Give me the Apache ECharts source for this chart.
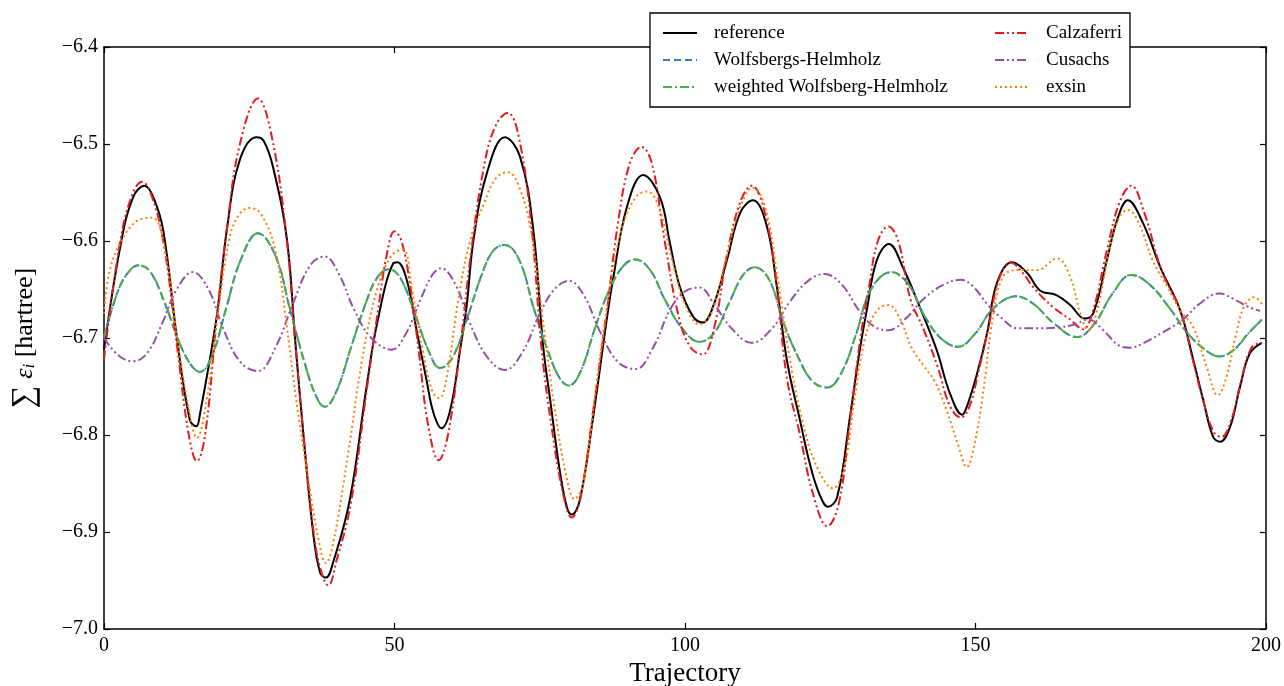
<!DOCTYPE html>
<html>
<head>
<meta charset="utf-8">
<script src="https://cdn.jsdelivr.net/npm/echarts@6/dist/echarts.min.js"></script>
<style>html,body{margin:0;padding:0;background:#fff}#c{width:1284px;height:686px}</style>
</head>
<body>
<div id="c"></div>
<script>
// ---- data ----
const xTicks = [0, 50, 100, 150, 200];
const yTicks = [-7.0, -6.9, -6.8, -6.7, -6.6, -6.5, -6.4];

const refX = [0,2.8,5,7,8.5,10.2,12.6,14.8,15.9,16.5,19.4,21.2,23.4,26.3,27.5,29.1,31.5,32.9,34.3,36,37.2,38.2,39.4,42.3,45.2,47,49.8,50.5,52.1,53.8,55.5,56.7,58.1,59.6,61.3,62.4,63.6,65.9,69,71.6,73.9,75.6,76.8,78.5,79.7,80.5,81.9,84.2,86.6,87.6,90,92.8,95.7,97.4,99.1,101.4,103.1,104.8,107.2,109.5,111.7,114.1,115.8,117.6,119.8,121.5,123.2,124.6,126.2,128.4,130.1,131.3,133,135.1,137.5,140.4,143.3,145.6,147.7,148.5,150.3,152,153.7,156.3,158.9,161.1,164,166.3,168.8,170.3,172.6,174.4,176.2,178.8,181.8,185.2,187.5,189.2,190.9,192.1,193.8,195.5,197.2,199.3];
const refY = [-6.712,-6.606,-6.555,-6.543,-6.555,-6.589,-6.702,-6.785,-6.791,-6.779,-6.678,-6.586,-6.516,-6.493,-6.497,-6.524,-6.599,-6.702,-6.798,-6.901,-6.942,-6.947,-6.932,-6.867,-6.750,-6.685,-6.623,-6.622,-6.640,-6.692,-6.743,-6.777,-6.793,-6.774,-6.712,-6.668,-6.599,-6.530,-6.493,-6.513,-6.589,-6.709,-6.764,-6.839,-6.875,-6.882,-6.867,-6.781,-6.678,-6.640,-6.565,-6.532,-6.555,-6.602,-6.647,-6.678,-6.684,-6.668,-6.620,-6.571,-6.558,-6.585,-6.647,-6.725,-6.785,-6.830,-6.862,-6.874,-6.864,-6.781,-6.712,-6.671,-6.620,-6.603,-6.627,-6.668,-6.712,-6.757,-6.779,-6.771,-6.736,-6.695,-6.643,-6.622,-6.633,-6.651,-6.656,-6.666,-6.680,-6.674,-6.620,-6.578,-6.558,-6.581,-6.627,-6.671,-6.723,-6.764,-6.802,-6.807,-6.792,-6.751,-6.716,-6.705];

const whX = [0,2.5,4.5,6,8,10.5,13,15,16.5,18.5,21,23.5,26.5,29.5,32,34.5,36.5,38,40,42.5,45,47,49,51,53.5,56,57.8,60,62.5,65,67,69,71.5,74,76.5,78.5,80,82,84.5,87,89.5,91.5,94,96.5,99.5,102.5,105,107.5,110,112,114.5,117,119.5,122,124.5,127,129.5,132,135.5,138.5,141,144,147,150,153,157,160,163.5,167.5,170.5,173.5,176.8,180,183.5,186.5,189.5,192,194.5,197,199.3];
const whY = [-6.700,-6.650,-6.630,-6.625,-6.632,-6.665,-6.705,-6.728,-6.735,-6.720,-6.670,-6.620,-6.592,-6.615,-6.670,-6.725,-6.760,-6.771,-6.755,-6.710,-6.665,-6.638,-6.629,-6.638,-6.675,-6.715,-6.731,-6.720,-6.680,-6.635,-6.610,-6.604,-6.620,-6.670,-6.715,-6.742,-6.749,-6.735,-6.690,-6.650,-6.625,-6.619,-6.630,-6.660,-6.690,-6.704,-6.695,-6.665,-6.635,-6.627,-6.640,-6.685,-6.720,-6.745,-6.751,-6.735,-6.695,-6.650,-6.632,-6.645,-6.675,-6.700,-6.709,-6.695,-6.670,-6.657,-6.665,-6.685,-6.699,-6.685,-6.655,-6.635,-6.645,-6.670,-6.695,-6.712,-6.719,-6.712,-6.695,-6.681];

const wwhX = [0,2.5,4.5,6,8,10.5,13,15,16.5,18.5,21,23.5,26.5,29.5,32,34.5,36.5,38,40,42.5,45,47,49,51,53.5,56,57.8,60,62.5,65,67,69,71.5,74,76.5,78.5,80,82,84.5,87,89.5,91.5,94,96.5,99.5,102.5,105,107.5,110,112,114.5,117,119.5,122,124.5,127,129.5,132,135.5,138.5,141,144,147,150,153,157,160,163.5,167.5,170.5,173.5,176.8,180,183.5,186.5,189.5,192,194.5,197,199.3];
const wwhY = [-6.699,-6.650,-6.630,-6.625,-6.632,-6.664,-6.705,-6.728,-6.735,-6.720,-6.670,-6.620,-6.592,-6.615,-6.670,-6.725,-6.760,-6.771,-6.755,-6.710,-6.665,-6.638,-6.629,-6.638,-6.675,-6.715,-6.731,-6.720,-6.680,-6.635,-6.610,-6.604,-6.620,-6.670,-6.715,-6.742,-6.749,-6.735,-6.690,-6.650,-6.625,-6.619,-6.630,-6.660,-6.690,-6.704,-6.695,-6.665,-6.635,-6.627,-6.640,-6.685,-6.720,-6.745,-6.751,-6.735,-6.695,-6.650,-6.632,-6.645,-6.675,-6.700,-6.709,-6.695,-6.670,-6.657,-6.665,-6.685,-6.699,-6.685,-6.655,-6.635,-6.645,-6.670,-6.695,-6.712,-6.719,-6.712,-6.695,-6.681];

const calX = [0,2.8,5,6.6,8,10.2,12.6,14.6,16,17.4,19.4,21.2,23.4,26.5,28.8,31.3,33,34.5,36.3,37.6,38.6,40,42.5,45.3,47.2,48.8,50,51.2,52.8,54.3,55.8,57.6,59.2,61.5,63,65.5,67.5,69.5,71.3,73.5,75.3,77,79,80.5,82,84.3,86.6,88.5,90.5,92.5,94.3,96.5,99,101,103,105,107.2,109.5,111.5,113.5,115.7,117.5,119.8,122,124.5,126.5,128.5,130.2,131.6,133.2,135,136.7,138.8,141,143.5,145.6,147.5,149,150.5,152.2,154,156,158,160,163.3,166.3,168.5,170.3,172.6,174.8,176.8,179,182,185.2,187.5,189.2,191,192.3,194,195.7,197.5,199.3];
const calY = [-6.722,-6.600,-6.550,-6.539,-6.550,-6.600,-6.710,-6.800,-6.827,-6.800,-6.680,-6.585,-6.500,-6.453,-6.490,-6.590,-6.710,-6.810,-6.910,-6.945,-6.955,-6.930,-6.870,-6.750,-6.670,-6.610,-6.590,-6.600,-6.650,-6.720,-6.790,-6.826,-6.800,-6.700,-6.620,-6.520,-6.480,-6.468,-6.490,-6.580,-6.710,-6.790,-6.860,-6.885,-6.865,-6.770,-6.670,-6.580,-6.520,-6.503,-6.520,-6.600,-6.680,-6.710,-6.717,-6.690,-6.615,-6.560,-6.543,-6.565,-6.640,-6.740,-6.800,-6.860,-6.894,-6.870,-6.780,-6.700,-6.650,-6.600,-6.585,-6.600,-6.660,-6.690,-6.730,-6.770,-6.782,-6.770,-6.735,-6.690,-6.640,-6.622,-6.632,-6.648,-6.668,-6.681,-6.691,-6.670,-6.610,-6.560,-6.543,-6.570,-6.630,-6.671,-6.725,-6.765,-6.797,-6.802,-6.785,-6.745,-6.710,-6.705];

const cusX = [0,2.5,5,7.5,10,12.5,15.3,18,20.5,23.5,26.5,29.5,32.5,35.5,38,40.5,43,46,49.5,52,54.5,56.5,58,60.5,63,66,69,72,75,77.5,80,82.5,85.5,88.5,91.5,94.5,97.5,100,102.5,105,108,111.5,115,118,121,124,127,130,132.5,135,138,141,144.5,147.5,149.6,152,154.2,157.3,161,164.5,167,169.4,172,174.5,176.6,179,182,185.7,188.5,192,194.5,197,199];
const cusY = [-6.700,-6.718,-6.724,-6.715,-6.685,-6.650,-6.632,-6.650,-6.690,-6.725,-6.734,-6.710,-6.665,-6.625,-6.616,-6.635,-6.670,-6.700,-6.712,-6.695,-6.660,-6.635,-6.628,-6.645,-6.685,-6.720,-6.733,-6.715,-6.675,-6.650,-6.641,-6.655,-6.695,-6.725,-6.732,-6.710,-6.670,-6.652,-6.648,-6.665,-6.690,-6.705,-6.690,-6.663,-6.642,-6.634,-6.645,-6.672,-6.688,-6.692,-6.680,-6.660,-6.645,-6.640,-6.647,-6.665,-6.678,-6.690,-6.690,-6.689,-6.686,-6.681,-6.692,-6.707,-6.710,-6.705,-6.695,-6.681,-6.665,-6.654,-6.660,-6.668,-6.672];

const exsX = [0,1,3,5.5,8.3,10.5,12.6,14.5,16,17.5,19.5,21.5,23,25,27,29.5,31.5,33,35,37,38.2,39.5,42,44.5,47,49.5,51.5,53,54.8,56.5,57.7,59,61,63,65.5,67.5,69.5,71.5,73.5,75.5,77.5,79.5,81,82.5,84.5,86.8,89,91.5,93.5,95.5,97.8,100,102.5,104.5,107,109.5,111.7,113.8,116,118,120,122.5,125.5,127.5,129,131,133,135,137,139,141,143,145,147,148.5,149.8,151.3,153,154.7,157.1,160.6,164,166.3,168,169.4,171,173,174.8,176.2,178,180.5,183,185.3,187.5,189.8,191.7,193.2,194.7,196.2,198,199.3];
const exsY = [-6.675,-6.630,-6.600,-6.580,-6.576,-6.610,-6.700,-6.770,-6.803,-6.770,-6.680,-6.600,-6.575,-6.566,-6.572,-6.610,-6.690,-6.760,-6.840,-6.910,-6.932,-6.910,-6.820,-6.720,-6.650,-6.615,-6.609,-6.650,-6.710,-6.755,-6.762,-6.740,-6.660,-6.600,-6.560,-6.535,-6.529,-6.545,-6.590,-6.680,-6.770,-6.840,-6.866,-6.850,-6.760,-6.660,-6.590,-6.555,-6.549,-6.565,-6.620,-6.665,-6.686,-6.675,-6.620,-6.565,-6.545,-6.565,-6.640,-6.720,-6.780,-6.830,-6.855,-6.830,-6.770,-6.700,-6.672,-6.666,-6.680,-6.710,-6.728,-6.745,-6.774,-6.810,-6.833,-6.810,-6.757,-6.678,-6.637,-6.630,-6.630,-6.618,-6.637,-6.674,-6.692,-6.670,-6.610,-6.575,-6.568,-6.580,-6.620,-6.647,-6.672,-6.689,-6.730,-6.759,-6.740,-6.700,-6.668,-6.658,-6.665];

const names = ['reference','Wolfsbergs-Helmholz','weighted Wolfsberg-Helmholz','Calzaferri','Cusachs','exsin'];

// ---- chart ----
const zip = (xs, ys) => xs.map((x, i) => [x, ys[i]]);
const serif = '"Liberation Serif","DejaVu Serif",serif';
const fmtY = v => v.toFixed(1).replace('-', '\u2212');

const chart = echarts.init(document.getElementById('c'), null, {renderer: 'canvas'});
const mk = (name, data, color, type, z) => ({
  name, type: 'line', data, symbol: 'none', smooth: 0.4,
  lineStyle: {color, width: 2, type}, itemStyle: {color}, z,
  emphasis: {disabled: true}, animation: false
});

const axisCommonX = {
  type: 'value', min: 0, max: 200, interval: 50,
  axisLine: {show: true, onZero: false, lineStyle: {color: '#000', width: 1.5}},
  axisTick: {show: true, inside: true, length: 6, lineStyle: {color: '#000', width: 1.2}},
  splitLine: {show: false}
};
const axisCommonY = {
  type: 'value', min: -7.0, max: -6.4, interval: 0.1,
  axisLine: {show: true, onZero: false, lineStyle: {color: '#000', width: 1.5}},
  axisTick: {show: true, inside: true, length: 6, lineStyle: {color: '#000', width: 1.2}},
  splitLine: {show: false}
};
const legendCommon = {
  orient: 'vertical', top: 23, padding: 0, itemWidth: 34, itemHeight: 14, itemGap: 7, z: 20,
  selectedMode: false, itemStyle: {opacity: 0},
  textStyle: {color: '#000', fontFamily: serif, fontSize: 19, lineHeight: 20, padding: [0, 0, 0, 12]}
};

chart.setOption({
  animation: false,
  backgroundColor: '#fff',
  grid: {left: 104, right: 18, top: 47, bottom: 57, containLabel: false, outerBoundsMode: 'none'},
  xAxis: [
    Object.assign({}, axisCommonX, {
      position: 'bottom',
      axisLabel: {show: true, color: '#000', fontFamily: serif, fontSize: 20, margin: 7,
        formatter: v => xTicks.includes(v) ? String(v) : ''},
      name: 'Trajectory', nameLocation: 'middle', nameGap: 31,
      nameTextStyle: {color: '#000', fontFamily: serif, fontSize: 27}
    }),
    Object.assign({}, axisCommonX, {position: 'top', axisLabel: {show: false}})
  ],
  yAxis: [
    Object.assign({}, axisCommonY, {
      position: 'left',
      axisLabel: {show: true, color: '#000', fontFamily: serif, fontSize: 20, margin: 6,
        formatter: v => fmtY(v)},
      name: '{s|\u2211} {e|\u03b5}{i|i} {t|[hartree]}', nameLocation: 'middle', nameGap: 63, nameRotate: 90,
      nameTextStyle: {color: '#000', fontFamily: serif, fontSize: 26,
        rich: {
          s: {fontFamily: serif, fontSize: 32, color: '#000'},
          e: {fontFamily: serif, fontSize: 26, fontStyle: 'italic', color: '#000'},
          i: {fontFamily: serif, fontSize: 17, fontStyle: 'italic', color: '#000', padding: [10, 0, 0, 0]},
          t: {fontFamily: serif, fontSize: 26, color: '#000'}
        }}
    }),
    Object.assign({}, axisCommonY, {position: 'right', axisLabel: {show: false}})
  ],
  legend: [
    Object.assign({}, legendCommon, {data: names.slice(0, 3), left: 662}),
    Object.assign({}, legendCommon, {data: names.slice(3), left: 994})
  ],
  graphic: [{
    type: 'rect', z: 15, silent: true,
    shape: {x: 650, y: 13, width: 480, height: 94},
    style: {fill: '#fff', stroke: '#000', lineWidth: 1.3}
  }],
  series: [
    mk(names[0], zip(refX, refY), '#000000', 'solid', 3),
    mk(names[1], zip(whX, whY), '#377eb8', [7, 4], 4),
    mk(names[2], zip(wwhX, wwhY), '#4daf4a', [9, 3, 2, 3], 5),
    mk(names[3], zip(calX, calY), '#e41a1c', [9, 3, 2, 3, 2, 3], 6),
    mk(names[4], zip(cusX, cusY), '#984ea3', [9, 3, 2, 3, 2, 3], 7),
    mk(names[5], zip(exsX, exsY), '#ff7f00', [2, 3], 8)
  ]
});
</script>
</body>
</html>
